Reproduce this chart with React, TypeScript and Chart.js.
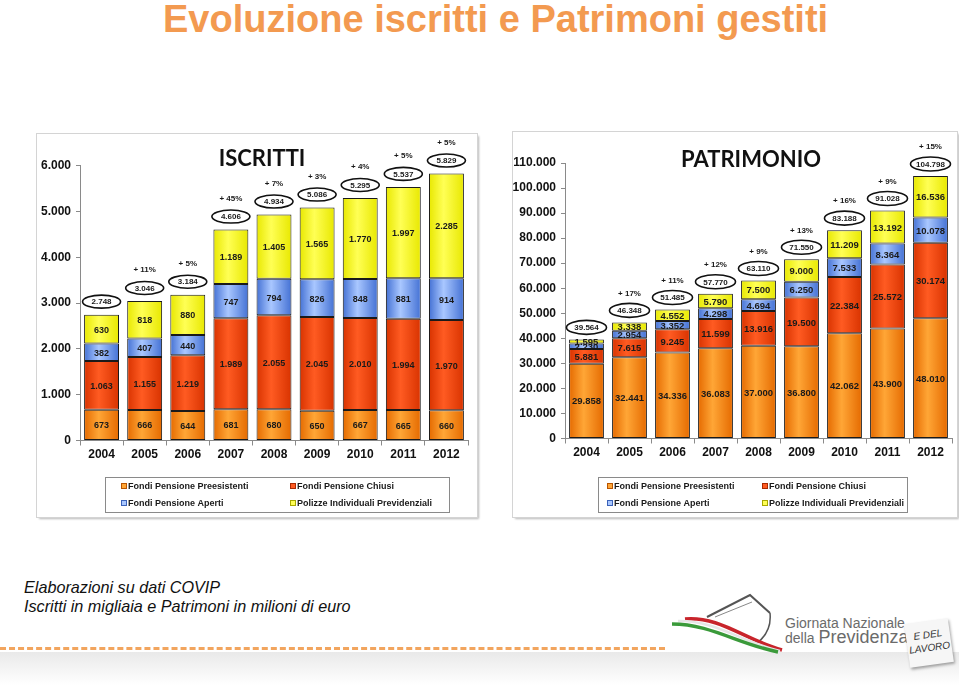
import React, { useEffect, useRef } from 'react';
import { Chart, registerables } from 'chart.js';

Chart.register(...registerables);

// ---------------- DATA ----------------
const years = ['2004', '2005', '2006', '2007', '2008', '2009', '2010', '2011', '2012'];
const seriesNames = [
  'Fondi Pensione Preesistenti',
  'Fondi Pensione Chiusi',
  'Fondi Pensione Aperti',
  'Polizze Individuali Previdenziali',
];

// ISCRITTI (migliaia)
const iscrittiPreesistenti = [673, 666, 644, 681, 680, 650, 667, 665, 660];
const iscrittiChiusi = [1063, 1155, 1219, 1989, 2055, 2045, 2010, 1994, 1970];
const iscrittiAperti = [382, 407, 440, 747, 794, 826, 848, 881, 914];
const iscrittiPolizze = [630, 818, 880, 1189, 1405, 1565, 1770, 1997, 2285];
const iscrittiTotali = [2748, 3046, 3184, 4606, 4934, 5086, 5295, 5537, 5829];
const iscrittiCrescita = ['', '+ 11%', '+ 5%', '+ 45%', '+ 7%', '+ 3%', '+ 4%', '+ 5%', '+ 5%'];
const iscrittiMax = 6000;
const iscrittiStep = 1000;

// PATRIMONIO (milioni di euro)
const patrimonioPreesistenti = [29858, 32441, 34336, 36083, 37000, 36800, 42062, 43900, 48010];
const patrimonioChiusi = [5881, 7615, 9245, 11599, 13916, 19500, 22384, 25572, 30174];
const patrimonioAperti = [2230, 2954, 3352, 4298, 4694, 6250, 7533, 8364, 10078];
const patrimonioPolizze = [1595, 3338, 4552, 5790, 7500, 9000, 11209, 13192, 16536];
const patrimonioTotali = [39564, 46348, 51485, 57770, 63110, 71550, 83188, 91028, 104798];
const patrimonioCrescita = ['', '+ 17%', '+ 11%', '+ 12%', '+ 9%', '+ 13%', '+ 16%', '+ 9%', '+ 15%'];
const patrimonioMax = 110000;
const patrimonioStep = 10000;

// ---------------- STYLE ----------------
const FONT = '"Liberation Sans", Arial, Helvetica, sans-serif';
const BAR_FRACTION = 0.81;
const palettes = [
  { edge: '#E56A00', center: '#FFA636', border: '#B85400' },
  { edge: '#D83300', center: '#FF5B22', border: '#A82800' },
  { edge: '#4471D4', center: '#A9C7FF', border: '#3B62B8' },
  { edge: '#E8E800', center: '#FFFF55', border: '#A8A800' },
];

const fmt = (v: number) => String(Math.round(v)).replace(/\B(?=(\d{3})+(?!\d))/g, '.');

function gradientFill(p: { edge: string; center: string }) {
  return (ctx: any) => {
    const chart = ctx.chart;
    const xs = chart.scales && chart.scales.x;
    if (!chart.chartArea || !xs || ctx.dataIndex === undefined) return p.center;
    const n = (chart.data.labels || []).length || 1;
    const cx = xs.getPixelForValue(ctx.dataIndex);
    const half = ((xs.width / n) * BAR_FRACTION) / 2;
    if (!isFinite(cx) || !isFinite(half) || half <= 0) return p.center;
    const g = chart.ctx.createLinearGradient(cx - half, 0, cx + half, 0);
    g.addColorStop(0, p.edge);
    g.addColorStop(0.42, p.center);
    g.addColorStop(1, p.edge);
    return g;
  };
}

const annotatePlugin = {
  id: 'annotate',
  afterDatasetsDraw(chart: any, _args: any, opts: any) {
    const ctx = chart.ctx as CanvasRenderingContext2D;
    ctx.save();
    ctx.textAlign = 'center';
    ctx.textBaseline = 'middle';
    // segment values
    chart.data.datasets.forEach((ds: any, di: number) => {
      const meta = chart.getDatasetMeta(di);
      ctx.font = `bold ${opts.segFont}px ${FONT}`;
      ctx.fillStyle = '#1a1a1a';
      meta.data.forEach((bar: any, i: number) => {
        ctx.fillText(fmt(ds.data[i]), bar.x, (bar.y + bar.base) / 2 + 1);
      });
    });
    // totals & growth
    const topMeta = chart.getDatasetMeta(chart.data.datasets.length - 1);
    topMeta.data.forEach((bar: any, i: number) => {
      const cy = bar.y - opts.ellipseGap;
      ctx.beginPath();
      ctx.ellipse(bar.x, cy, opts.rx, opts.ry, 0, 0, Math.PI * 2);
      ctx.fillStyle = '#ffffff';
      ctx.fill();
      ctx.lineWidth = 1.6;
      ctx.strokeStyle = '#111';
      ctx.stroke();
      ctx.fillStyle = '#1a1a1a';
      ctx.font = `bold 8px ${FONT}`;
      ctx.fillText(fmt(opts.totals[i]), bar.x, cy + 0.5);
      if (opts.growth[i]) {
        ctx.fillText(opts.growth[i], bar.x, cy - opts.pctGap);
      }
    });
    // panel title
    ctx.font = `bold ${opts.titleSize}px Lato, "Open Sans", sans-serif`;
    ctx.fillStyle = '#111';
    ctx.fillText(opts.title, opts.titleX, opts.titleY);
    // legend
    const L = opts.legend;
    ctx.fillStyle = '#fff';
    ctx.fillRect(L.x, L.y, L.w, L.h);
    ctx.lineWidth = 1;
    ctx.strokeStyle = '#8a8a8a';
    ctx.strokeRect(L.x + 0.5, L.y + 0.5, L.w, L.h);
    ctx.textAlign = 'left';
    ctx.font = `bold 9px ${FONT}`;
    chart.data.datasets.forEach((ds: any, di: number) => {
      const col = di % 2;
      const row = Math.floor(di / 2);
      const mx = col === 0 ? L.col1 : L.col2;
      const my = row === 0 ? L.row1 : L.row2;
      const p = palettes[di];
      ctx.fillStyle = p.center;
      ctx.fillRect(mx, my - 3, 6, 6);
      ctx.strokeStyle = p.border;
      ctx.strokeRect(mx + 0.5, my - 2.5, 5, 5);
      ctx.fillStyle = '#1a1a1a';
      ctx.fillText(ds.label, mx + 7, my + 0.5);
    });
    ctx.restore();
  },
};

function makeConfig(
  series: number[][],
  max: number,
  step: number,
  yWidth: number,
  padding: any,
  annotate: any
): any {
  return {
    type: 'bar',
    data: {
      labels: years,
      datasets: series.map((d, i) => ({
        label: seriesNames[i],
        data: d,
        backgroundColor: gradientFill(palettes[i]),
        borderColor: '#1a1a1a',
        borderWidth: 1,
        borderSkipped: false,
        categoryPercentage: 1,
        barPercentage: BAR_FRACTION,
      })),
    },
    options: {
      responsive: false,
      animation: false,
      devicePixelRatio: 1,
      layout: { padding },
      plugins: {
        legend: { display: false },
        tooltip: { enabled: false },
        title: { display: false },
        annotate,
      },
      scales: {
        x: {
          stacked: true,
          grid: { display: true, drawOnChartArea: false, drawTicks: true, tickLength: 5, color: '#8a8a8a', offset: true },
          border: { display: true, color: '#8a8a8a' },
          ticks: { font: { family: FONT, size: 12, weight: 'bold' }, color: '#111', padding: 2, maxRotation: 0 },
          afterFit: (s: any) => {
            s.height = 20;
          },
        },
        y: {
          stacked: true,
          min: 0,
          max,
          ticks: {
            stepSize: step,
            callback: (v: any) => fmt(Number(v)),
            font: { family: FONT, size: 12, weight: 'bold' },
            color: '#111',
            padding: 5,
          },
          grid: { display: true, drawOnChartArea: false, drawTicks: true, tickLength: 4, color: '#8a8a8a' },
          border: { display: true, color: '#8a8a8a' },
          afterFit: (s: any) => {
            s.width = yWidth;
          },
        },
      },
    },
    plugins: [annotatePlugin],
  };
}

function ChartPanel(props: { left: number; top: number; width: number; height: number; config: () => any }) {
  const ref = useRef<HTMLCanvasElement | null>(null);
  useEffect(() => {
    if (!ref.current) return;
    const chart = new Chart(ref.current, props.config());
    return () => chart.destroy();
  }, []);
  return (
    <div
      style={{
        position: 'absolute',
        left: props.left,
        top: props.top,
        width: props.width,
        height: props.height,
        background: '#fff',
        boxShadow: '0 0 0 1px #d4d4d4, 2px 2px 2px rgba(0,0,0,0.28)',
      }}
    >
      <canvas ref={ref} width={props.width} height={props.height} style={{ display: 'block' }} />
    </div>
  );
}

export default function App() {
  const iscrittiConfig = () =>
    makeConfig(
      [iscrittiPreesistenti, iscrittiChiusi, iscrittiAperti, iscrittiPolizze],
      iscrittiMax,
      iscrittiStep,
      43,
      { left: 0, right: 9, top: 31.7, bottom: 56.5 },
      {
        totals: iscrittiTotali,
        growth: iscrittiCrescita,
        segFont: 9,
        ellipseGap: 13,
        pctGap: 18,
        rx: 19,
        ry: 6.5,
        title: 'ISCRITTI',
        titleSize: 22,
        titleX: 225,
        titleY: 25,
        legend: { x: 68, y: 343, w: 344, h: 35, col1: 84, col2: 253, row1: 352, row2: 369 },
      }
    );
  const patrimonioConfig = () =>
    makeConfig(
      [patrimonioPreesistenti, patrimonioChiusi, patrimonioAperti, patrimonioPolizze],
      patrimonioMax,
      patrimonioStep,
      52,
      { left: 0, right: 5, top: 31, bottom: 58.5 },
      {
        totals: patrimonioTotali,
        growth: patrimonioCrescita,
        segFont: 9.5,
        ellipseGap: 12,
        pctGap: 17,
        rx: 20,
        ry: 7,
        title: 'PATRIMONIO',
        titleSize: 22,
        titleX: 238,
        titleY: 27.5,
        legend: { x: 85, y: 345, w: 309, h: 35, col1: 94, col2: 249, row1: 354, row2: 371 },
      }
    );

  return (
    <div
      style={{
        position: 'fixed',
        left: 0,
        top: 0,
        width: 959,
        height: 685,
        background: '#fff',
        overflow: 'hidden',
        fontFamily: FONT,
      }}
    >
      <div
        style={{
          position: 'absolute',
          left: 163,
          top: 0,
          fontSize: 38,
          lineHeight: '38px',
          fontWeight: 'bold',
          color: '#F39A50',
          whiteSpace: 'nowrap',
        }}
      >
        Evoluzione iscritti e Patrimoni gestiti
      </div>

      <ChartPanel left={37} top={134} width={440} height={383} config={iscrittiConfig} />
      <ChartPanel left={513} top={132} width={444} height={385} config={patrimonioConfig} />

      <div
        style={{
          position: 'absolute',
          left: 24,
          top: 578,
          fontSize: 16.2,
          lineHeight: '18.5px',
          fontStyle: 'italic',
          color: '#111',
          whiteSpace: 'nowrap',
        }}
      >
        <div>Elaborazioni su dati COVIP</div>
        <div>Iscritti in migliaia e Patrimoni in milioni di euro</div>
      </div>

      <div
        style={{
          position: 'absolute',
          left: 0,
          top: 647,
          width: 665,
          height: 0,
          borderTop: '3px dashed #F2A55E',
        }}
      />
      <div
        style={{
          position: 'absolute',
          left: 0,
          top: 652,
          width: 959,
          height: 33,
          background: 'linear-gradient(to bottom, #e9e9e9, #ffffff)',
        }}
      />

      <svg style={{ position: 'absolute', left: 660, top: 580 }} width={125} height={80}>
        <path d="M47 37 L90 15 L110 33" stroke="#555" strokeWidth={2} fill="none" />
        <path d="M55 37 L92 22" stroke="#888" strokeWidth={1} fill="none" />
        <path d="M110 33 Q 112 52 96 64" stroke="#555" strokeWidth={1.5} fill="none" />
        <path d="M25 39 C 60 36, 85 60, 122 70" stroke="#c8242b" strokeWidth={3.5} fill="none" />
        <path d="M18 41 C 55 40, 82 62, 120 71" stroke="#e6e6e6" strokeWidth={2.5} fill="none" />
        <path d="M12 44 C 50 44, 78 64, 118 72" stroke="#3a9a3a" strokeWidth={3.5} fill="none" />
      </svg>
      <div style={{ position: 'absolute', left: 785, top: 615, fontSize: 14, lineHeight: '16px', color: '#6b6b6b', whiteSpace: 'nowrap' }}>
        Giornata Nazionale
      </div>
      <div style={{ position: 'absolute', left: 785, top: 627, fontSize: 14, lineHeight: '20px', color: '#6b6b6b', whiteSpace: 'nowrap' }}>
        della <span style={{ fontSize: 18 }}>Previdenza</span>
      </div>
      <div
        style={{
          position: 'absolute',
          left: 907,
          top: 621,
          width: 44,
          height: 44,
          background: '#f6f6f6',
          boxShadow: '1px 2px 3px rgba(0,0,0,0.35)',
          transform: 'rotate(-8deg)',
          fontSize: 10,
          lineHeight: '13px',
          color: '#333',
          textAlign: 'center',
          fontStyle: 'italic',
          paddingTop: 7,
          boxSizing: 'border-box',
        }}
      >
        E DEL
        <br />
        LAVORO
      </div>
    </div>
  );
}
